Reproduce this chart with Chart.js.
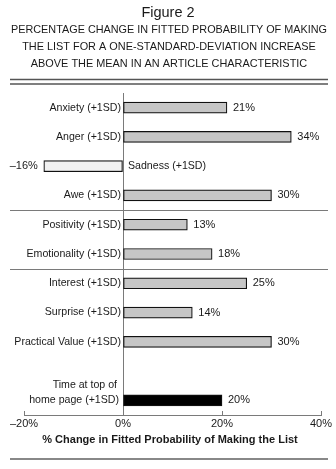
<!DOCTYPE html>
<html>
<head>
<meta charset="utf-8">
<script src="https://cdn.jsdelivr.net/npm/chart.js@4/dist/chart.umd.min.js"></script>
<style>
  html, body { margin: 0; padding: 0; background: #fff; }
  canvas { display: block; }
</style>
</head>
<body>
<canvas id="fig" width="336" height="469" style="width:336px;height:469px"></canvas>
<script>
'use strict';
// categories (one empty slot before the last row, as in the figure)
const categories = [
  'Anxiety (+1SD)', 'Anger (+1SD)', 'Sadness (+1SD)', 'Awe (+1SD)',
  'Positivity (+1SD)', 'Emotionality (+1SD)',
  'Interest (+1SD)', 'Surprise (+1SD)', 'Practical Value (+1SD)',
  '', ['Time at top of', 'home page (+1SD)']
];
const pctChange = [21, 34, -16, 30, 13, 18, 25, 14, 30, null, 20];
const valueLabels = ['21%', '34%', '\u201316%', '30%', '13%', '18%', '25%', '14%', '30%', '', '20%'];
const barFills = ['#c6c6c6', '#c6c6c6', '#f1f1f1', '#c6c6c6', '#c6c6c6', '#c6c6c6',
  '#c6c6c6', '#c6c6c6', '#c6c6c6', '#c6c6c6', '#000000'];
const xTicks = [-20, 0, 20, 40];
const groupBreaks = [3, 5]; // rule drawn after these category indexes

const titleText = 'Figure 2';
const subtitleLines = [
  'PERCENTAGE CHANGE IN FITTED PROBABILITY OF MAKING',
  'THE LIST FOR A ONE-STANDARD-DEVIATION INCREASE',
  'ABOVE THE MEAN IN AN ARTICLE CHARACTERISTIC'
];
const axisTitle = '% Change in Fitted Probability of Making the List';

const FONT = '"Liberation Sans", Arial, Helvetica, sans-serif';
const INK = '#1a1a1a';
const RULE = '#7a7a7a';

const decorations = {
  id: 'decorations',
  afterDraw(chart) {
    const ctx = chart.ctx;
    const xs = chart.scales.x, ys = chart.scales.y;
    const area = chart.chartArea;
    const W = chart.width;
    ctx.save();

    // heading
    ctx.fillStyle = INK;
    ctx.textAlign = 'center';
    ctx.textBaseline = 'middle';
    ctx.font = '14.5px ' + FONT;
    ctx.fillText(titleText, W / 2, 13);
    ctx.font = '10.9px ' + FONT;
    subtitleLines.forEach((t, i) => ctx.fillText(t, W / 2 + 1, 30 + i * 17, 316));

    // double rule under heading
    ctx.strokeStyle = '#555';
    ctx.lineWidth = 1.3;
    [79.5, 84].forEach(y => {
      ctx.beginPath(); ctx.moveTo(10, y); ctx.lineTo(328, y); ctx.stroke();
    });

    // group separators
    ctx.strokeStyle = RULE;
    ctx.lineWidth = 1;
    groupBreaks.forEach(i => {
      const y = Math.round((ys.getPixelForValue(i) + ys.getPixelForValue(i + 1)) / 2) + 0.5;
      ctx.beginPath(); ctx.moveTo(10, y); ctx.lineTo(328, y); ctx.stroke();
    });

    // upward tick marks on the x axis
    xTicks.forEach(v => {
      const x = Math.round(xs.getPixelForValue(v)) + 0.5;
      ctx.beginPath(); ctx.moveTo(x, area.bottom); ctx.lineTo(x, area.bottom - 4); ctx.stroke();
    });

    // axis title
    ctx.fillStyle = INK;
    ctx.font = 'bold 11px ' + FONT;
    ctx.textAlign = 'center';
    ctx.fillText(axisTitle, 170, 440);

    // bottom rule
    ctx.strokeStyle = '#888';
    ctx.lineWidth = 2;
    ctx.beginPath(); ctx.moveTo(10, 459); ctx.lineTo(328, 459); ctx.stroke();

    // category + value labels
    const zeroX = xs.getPixelForValue(0);
    const bars = chart.getDatasetMeta(0).data;
    ctx.font = '10.6px ' + FONT;
    ctx.fillStyle = INK;
    categories.forEach((cat, i) => {
      const y = ys.getPixelForValue(i);
      const v = pctChange[i];
      if (Array.isArray(cat)) {
        ctx.textAlign = 'right';
        ctx.fillText(cat[0], zeroX - 6, y - 15);
        ctx.fillText(cat[1], zeroX - 4, y);
      } else if (cat) {
        if (v < 0) {
          ctx.textAlign = 'left';
          ctx.fillText(cat, zeroX + 5, y);
        } else {
          ctx.textAlign = 'right';
          ctx.fillText(cat, zeroX - 2, y);
        }
      }
      if (v === null) return;
      const bx = bars[i].x;
      ctx.font = '11px ' + FONT;
      if (v < 0) {
        ctx.textAlign = 'right';
        ctx.fillText(valueLabels[i], bx - 6, y);
      } else {
        ctx.textAlign = 'left';
        ctx.fillText(valueLabels[i], bx + 6, y);
      }
      ctx.font = '10.6px ' + FONT;
    });
    ctx.restore();
  }
};

new Chart(document.getElementById('fig'), {
  type: 'bar',
  data: {
    labels: categories,
    datasets: [{
      data: pctChange,
      backgroundColor: barFills,
      borderColor: '#111',
      borderWidth: 1.2,
      borderSkipped: false,
      barThickness: 11
    }]
  },
  options: {
    indexAxis: 'y',
    responsive: false,
    animation: false,
    devicePixelRatio: 1,
    layout: { padding: { left: 24, right: 15, top: 93, bottom: 34 } },
    plugins: { legend: { display: false }, tooltip: { enabled: false } },
    scales: {
      x: {
        type: 'linear',
        min: -20, max: 40,
        afterBuildTicks: s => { s.ticks = xTicks.map(v => ({ value: v })); },
        afterFit: s => { s.height = 20; },
        grid: {
          drawTicks: false,
          color: c => (c.tick && c.tick.value === 0 ? RULE : 'rgba(0,0,0,0)'),
          lineWidth: 1
        },
        border: { display: true, color: RULE, width: 1 },
        ticks: {
          padding: 2,
          color: INK,
          font: { family: FONT, size: 11 },
          callback: v => (v < 0 ? '\u2013' + Math.abs(v) : v) + '%'
        }
      },
      y: { display: false }
    }
  },
  plugins: [decorations]
});
</script>
</body>
</html>
